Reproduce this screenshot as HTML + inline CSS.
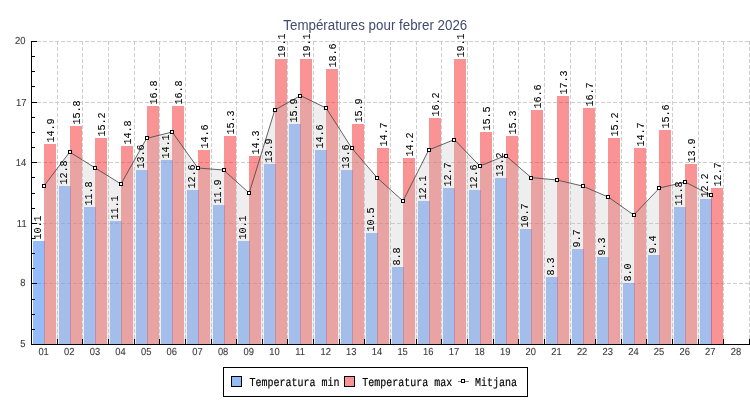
<!DOCTYPE html>
<html><head><meta charset="utf-8"><title>Températures pour febrer 2026</title>
<style>html,body{margin:0;padding:0;background:#fff;}body{width:750px;height:400px;overflow:hidden;font-family:"Liberation Sans",sans-serif;}svg{display:block}</style>
</head><body>
<svg width="750" height="400" viewBox="0 0 750 400">
<rect width="750" height="400" fill="#fff"/>
<g stroke="#cdcdcd" stroke-width="1" stroke-dasharray="4 2" shape-rendering="crispEdges">
<line x1="31" y1="41.5" x2="750" y2="41.5"/>
<line x1="31" y1="102.5" x2="750" y2="102.5"/>
<line x1="31" y1="162.5" x2="750" y2="162.5"/>
<line x1="31" y1="223.5" x2="750" y2="223.5"/>
<line x1="31" y1="283.5" x2="750" y2="283.5"/>
<line x1="57.5" y1="41" x2="57.5" y2="344"/>
<line x1="82.5" y1="41" x2="82.5" y2="344"/>
<line x1="108.5" y1="41" x2="108.5" y2="344"/>
<line x1="134.5" y1="41" x2="134.5" y2="344"/>
<line x1="159.5" y1="41" x2="159.5" y2="344"/>
<line x1="185.5" y1="41" x2="185.5" y2="344"/>
<line x1="211.5" y1="41" x2="211.5" y2="344"/>
<line x1="236.5" y1="41" x2="236.5" y2="344"/>
<line x1="262.5" y1="41" x2="262.5" y2="344"/>
<line x1="287.5" y1="41" x2="287.5" y2="344"/>
<line x1="313.5" y1="41" x2="313.5" y2="344"/>
<line x1="339.5" y1="41" x2="339.5" y2="344"/>
<line x1="364.5" y1="41" x2="364.5" y2="344"/>
<line x1="390.5" y1="41" x2="390.5" y2="344"/>
<line x1="416.5" y1="41" x2="416.5" y2="344"/>
<line x1="441.5" y1="41" x2="441.5" y2="344"/>
<line x1="467.5" y1="41" x2="467.5" y2="344"/>
<line x1="493.5" y1="41" x2="493.5" y2="344"/>
<line x1="518.5" y1="41" x2="518.5" y2="344"/>
<line x1="544.5" y1="41" x2="544.5" y2="344"/>
<line x1="570.5" y1="41" x2="570.5" y2="344"/>
<line x1="595.5" y1="41" x2="595.5" y2="344"/>
<line x1="621.5" y1="41" x2="621.5" y2="344"/>
<line x1="646.5" y1="41" x2="646.5" y2="344"/>
<line x1="672.5" y1="41" x2="672.5" y2="344"/>
<line x1="698.5" y1="41" x2="698.5" y2="344"/>
<line x1="723.5" y1="41" x2="723.5" y2="344"/>
<line x1="749.5" y1="41" x2="749.5" y2="344"/>
</g>
<g shape-rendering="crispEdges">
<rect x="33" y="241" width="12" height="103" fill="rgba(41,119,245,0.5)"/>
<rect x="44" y="144" width="12" height="200" fill="rgba(245,41,41,0.5)"/>
<rect x="59" y="186" width="12" height="158" fill="rgba(41,119,245,0.5)"/>
<rect x="70" y="126" width="12" height="218" fill="rgba(245,41,41,0.5)"/>
<rect x="84" y="207" width="12" height="137" fill="rgba(41,119,245,0.5)"/>
<rect x="95" y="138" width="12" height="206" fill="rgba(245,41,41,0.5)"/>
<rect x="110" y="221" width="12" height="123" fill="rgba(41,119,245,0.5)"/>
<rect x="121" y="146" width="12" height="198" fill="rgba(245,41,41,0.5)"/>
<rect x="136" y="170" width="12" height="174" fill="rgba(41,119,245,0.5)"/>
<rect x="147" y="106" width="12" height="238" fill="rgba(245,41,41,0.5)"/>
<rect x="161" y="160" width="12" height="184" fill="rgba(41,119,245,0.5)"/>
<rect x="172" y="106" width="12" height="238" fill="rgba(245,41,41,0.5)"/>
<rect x="187" y="190" width="12" height="154" fill="rgba(41,119,245,0.5)"/>
<rect x="198" y="150" width="12" height="194" fill="rgba(245,41,41,0.5)"/>
<rect x="213" y="205" width="12" height="139" fill="rgba(41,119,245,0.5)"/>
<rect x="224" y="136" width="12" height="208" fill="rgba(245,41,41,0.5)"/>
<rect x="238" y="241" width="12" height="103" fill="rgba(41,119,245,0.5)"/>
<rect x="249" y="156" width="12" height="188" fill="rgba(245,41,41,0.5)"/>
<rect x="264" y="164" width="12" height="180" fill="rgba(41,119,245,0.5)"/>
<rect x="275" y="59" width="12" height="285" fill="rgba(245,41,41,0.5)"/>
<rect x="289" y="124" width="12" height="220" fill="rgba(41,119,245,0.5)"/>
<rect x="300" y="59" width="12" height="285" fill="rgba(245,41,41,0.5)"/>
<rect x="315" y="150" width="12" height="194" fill="rgba(41,119,245,0.5)"/>
<rect x="326" y="69" width="12" height="275" fill="rgba(245,41,41,0.5)"/>
<rect x="341" y="170" width="12" height="174" fill="rgba(41,119,245,0.5)"/>
<rect x="352" y="124" width="12" height="220" fill="rgba(245,41,41,0.5)"/>
<rect x="366" y="233" width="12" height="111" fill="rgba(41,119,245,0.5)"/>
<rect x="377" y="148" width="12" height="196" fill="rgba(245,41,41,0.5)"/>
<rect x="392" y="267" width="12" height="77" fill="rgba(41,119,245,0.5)"/>
<rect x="403" y="158" width="12" height="186" fill="rgba(245,41,41,0.5)"/>
<rect x="418" y="201" width="12" height="143" fill="rgba(41,119,245,0.5)"/>
<rect x="429" y="118" width="12" height="226" fill="rgba(245,41,41,0.5)"/>
<rect x="443" y="188" width="12" height="156" fill="rgba(41,119,245,0.5)"/>
<rect x="454" y="59" width="12" height="285" fill="rgba(245,41,41,0.5)"/>
<rect x="469" y="190" width="12" height="154" fill="rgba(41,119,245,0.5)"/>
<rect x="480" y="132" width="12" height="212" fill="rgba(245,41,41,0.5)"/>
<rect x="495" y="178" width="12" height="166" fill="rgba(41,119,245,0.5)"/>
<rect x="506" y="136" width="12" height="208" fill="rgba(245,41,41,0.5)"/>
<rect x="520" y="229" width="12" height="115" fill="rgba(41,119,245,0.5)"/>
<rect x="531" y="110" width="12" height="234" fill="rgba(245,41,41,0.5)"/>
<rect x="546" y="277" width="12" height="67" fill="rgba(41,119,245,0.5)"/>
<rect x="557" y="96" width="12" height="248" fill="rgba(245,41,41,0.5)"/>
<rect x="572" y="249" width="12" height="95" fill="rgba(41,119,245,0.5)"/>
<rect x="583" y="108" width="12" height="236" fill="rgba(245,41,41,0.5)"/>
<rect x="597" y="257" width="12" height="87" fill="rgba(41,119,245,0.5)"/>
<rect x="608" y="138" width="12" height="206" fill="rgba(245,41,41,0.5)"/>
<rect x="623" y="283" width="12" height="61" fill="rgba(41,119,245,0.5)"/>
<rect x="634" y="148" width="12" height="196" fill="rgba(245,41,41,0.5)"/>
<rect x="648" y="255" width="12" height="89" fill="rgba(41,119,245,0.5)"/>
<rect x="659" y="130" width="12" height="214" fill="rgba(245,41,41,0.5)"/>
<rect x="674" y="207" width="12" height="137" fill="rgba(41,119,245,0.5)"/>
<rect x="685" y="164" width="12" height="180" fill="rgba(245,41,41,0.5)"/>
<rect x="700" y="199" width="12" height="145" fill="rgba(41,119,245,0.5)"/>
<rect x="711" y="188" width="12" height="156" fill="rgba(245,41,41,0.5)"/>
</g>
<polygon points="44.0,344 44.0,186.0 69.7,152.0 95.3,168.0 121.0,184.0 146.6,138.4 172.2,132.0 197.9,168.0 223.5,170.0 249.2,193.0 274.8,110.0 300.4,95.6 326.1,108.0 351.7,148.0 377.4,178.0 403.0,201.0 428.7,150.0 454.3,139.6 479.9,166.0 505.6,155.6 531.2,177.6 556.9,180.0 582.5,186.0 608.2,197.0 633.8,215.0 659.5,188.0 685.1,182.0 710.7,195.0 710.7,344" fill="rgba(198,198,198,0.3)"/>
<polyline points="44.0,186.0 69.7,152.0 95.3,168.0 121.0,184.0 146.6,138.4 172.2,132.0 197.9,168.0 223.5,170.0 249.2,193.0 274.8,110.0 300.4,95.6 326.1,108.0 351.7,148.0 377.4,178.0 403.0,201.0 428.7,150.0 454.3,139.6 479.9,166.0 505.6,155.6 531.2,177.6 556.9,180.0 582.5,186.0 608.2,197.0 633.8,215.0 659.5,188.0 685.1,182.0 710.7,195.0" fill="none" stroke="#484848" stroke-width="0.85"/>
<g shape-rendering="crispEdges">
<rect x="42" y="184" width="4" height="4" fill="#000"/><rect x="43" y="185" width="2" height="2" fill="#fff"/>
<rect x="68" y="150" width="4" height="4" fill="#000"/><rect x="69" y="151" width="2" height="2" fill="#fff"/>
<rect x="93" y="166" width="4" height="4" fill="#000"/><rect x="94" y="167" width="2" height="2" fill="#fff"/>
<rect x="119" y="182" width="4" height="4" fill="#000"/><rect x="120" y="183" width="2" height="2" fill="#fff"/>
<rect x="145" y="136" width="4" height="4" fill="#000"/><rect x="146" y="137" width="2" height="2" fill="#fff"/>
<rect x="170" y="130" width="4" height="4" fill="#000"/><rect x="171" y="131" width="2" height="2" fill="#fff"/>
<rect x="196" y="166" width="4" height="4" fill="#000"/><rect x="197" y="167" width="2" height="2" fill="#fff"/>
<rect x="222" y="168" width="4" height="4" fill="#000"/><rect x="223" y="169" width="2" height="2" fill="#fff"/>
<rect x="247" y="191" width="4" height="4" fill="#000"/><rect x="248" y="192" width="2" height="2" fill="#fff"/>
<rect x="273" y="108" width="4" height="4" fill="#000"/><rect x="274" y="109" width="2" height="2" fill="#fff"/>
<rect x="298" y="94" width="4" height="4" fill="#000"/><rect x="299" y="95" width="2" height="2" fill="#fff"/>
<rect x="324" y="106" width="4" height="4" fill="#000"/><rect x="325" y="107" width="2" height="2" fill="#fff"/>
<rect x="350" y="146" width="4" height="4" fill="#000"/><rect x="351" y="147" width="2" height="2" fill="#fff"/>
<rect x="375" y="176" width="4" height="4" fill="#000"/><rect x="376" y="177" width="2" height="2" fill="#fff"/>
<rect x="401" y="199" width="4" height="4" fill="#000"/><rect x="402" y="200" width="2" height="2" fill="#fff"/>
<rect x="427" y="148" width="4" height="4" fill="#000"/><rect x="428" y="149" width="2" height="2" fill="#fff"/>
<rect x="452" y="138" width="4" height="4" fill="#000"/><rect x="453" y="139" width="2" height="2" fill="#fff"/>
<rect x="478" y="164" width="4" height="4" fill="#000"/><rect x="479" y="165" width="2" height="2" fill="#fff"/>
<rect x="504" y="154" width="4" height="4" fill="#000"/><rect x="505" y="155" width="2" height="2" fill="#fff"/>
<rect x="529" y="176" width="4" height="4" fill="#000"/><rect x="530" y="177" width="2" height="2" fill="#fff"/>
<rect x="555" y="178" width="4" height="4" fill="#000"/><rect x="556" y="179" width="2" height="2" fill="#fff"/>
<rect x="581" y="184" width="4" height="4" fill="#000"/><rect x="582" y="185" width="2" height="2" fill="#fff"/>
<rect x="606" y="195" width="4" height="4" fill="#000"/><rect x="607" y="196" width="2" height="2" fill="#fff"/>
<rect x="632" y="213" width="4" height="4" fill="#000"/><rect x="633" y="214" width="2" height="2" fill="#fff"/>
<rect x="657" y="186" width="4" height="4" fill="#000"/><rect x="658" y="187" width="2" height="2" fill="#fff"/>
<rect x="683" y="180" width="4" height="4" fill="#000"/><rect x="684" y="181" width="2" height="2" fill="#fff"/>
<rect x="709" y="193" width="4" height="4" fill="#000"/><rect x="710" y="194" width="2" height="2" fill="#fff"/>
</g>
<g font-family="Liberation Mono, monospace" font-size="10.1" fill="#000" stroke="#000" stroke-width="0.05" style="will-change:transform">
<text transform="translate(41.1,239.6) rotate(-90) scale(1,1.17)" x="0" y="0">10.1</text>
<text transform="translate(54.2,142.6) rotate(-90) scale(1,1.17)" x="0" y="0">14.9</text>
<text transform="translate(67.1,184.6) rotate(-90) scale(1,1.17)" x="0" y="0">12.8</text>
<text transform="translate(80.2,124.6) rotate(-90) scale(1,1.17)" x="0" y="0">15.8</text>
<text transform="translate(92.1,205.6) rotate(-90) scale(1,1.17)" x="0" y="0">11.8</text>
<text transform="translate(105.2,136.6) rotate(-90) scale(1,1.17)" x="0" y="0">15.2</text>
<text transform="translate(118.1,219.6) rotate(-90) scale(1,1.17)" x="0" y="0">11.1</text>
<text transform="translate(131.2,144.6) rotate(-90) scale(1,1.17)" x="0" y="0">14.8</text>
<text transform="translate(144.1,168.6) rotate(-90) scale(1,1.17)" x="0" y="0">13.6</text>
<text transform="translate(157.2,104.6) rotate(-90) scale(1,1.17)" x="0" y="0">16.8</text>
<text transform="translate(169.1,158.6) rotate(-90) scale(1,1.17)" x="0" y="0">14.1</text>
<text transform="translate(182.2,104.6) rotate(-90) scale(1,1.17)" x="0" y="0">16.8</text>
<text transform="translate(195.1,188.6) rotate(-90) scale(1,1.17)" x="0" y="0">12.6</text>
<text transform="translate(208.2,148.6) rotate(-90) scale(1,1.17)" x="0" y="0">14.6</text>
<text transform="translate(221.1,203.6) rotate(-90) scale(1,1.17)" x="0" y="0">11.9</text>
<text transform="translate(234.2,134.6) rotate(-90) scale(1,1.17)" x="0" y="0">15.3</text>
<text transform="translate(246.1,239.6) rotate(-90) scale(1,1.17)" x="0" y="0">10.1</text>
<text transform="translate(259.2,154.6) rotate(-90) scale(1,1.17)" x="0" y="0">14.3</text>
<text transform="translate(272.1,162.6) rotate(-90) scale(1,1.17)" x="0" y="0">13.9</text>
<text transform="translate(285.2,57.6) rotate(-90) scale(1,1.17)" x="0" y="0">19.1</text>
<text transform="translate(297.1,122.6) rotate(-90) scale(1,1.17)" x="0" y="0">15.9</text>
<text transform="translate(310.2,57.6) rotate(-90) scale(1,1.17)" x="0" y="0">19.1</text>
<text transform="translate(323.1,148.6) rotate(-90) scale(1,1.17)" x="0" y="0">14.6</text>
<text transform="translate(336.2,67.6) rotate(-90) scale(1,1.17)" x="0" y="0">18.6</text>
<text transform="translate(349.1,168.6) rotate(-90) scale(1,1.17)" x="0" y="0">13.6</text>
<text transform="translate(362.2,122.6) rotate(-90) scale(1,1.17)" x="0" y="0">15.9</text>
<text transform="translate(374.1,231.6) rotate(-90) scale(1,1.17)" x="0" y="0">10.5</text>
<text transform="translate(387.2,146.6) rotate(-90) scale(1,1.17)" x="0" y="0">14.7</text>
<text transform="translate(400.1,265.6) rotate(-90) scale(1,1.17)" x="0" y="0">8.8</text>
<text transform="translate(413.2,156.6) rotate(-90) scale(1,1.17)" x="0" y="0">14.2</text>
<text transform="translate(426.1,199.6) rotate(-90) scale(1,1.17)" x="0" y="0">12.1</text>
<text transform="translate(439.2,116.6) rotate(-90) scale(1,1.17)" x="0" y="0">16.2</text>
<text transform="translate(451.1,186.6) rotate(-90) scale(1,1.17)" x="0" y="0">12.7</text>
<text transform="translate(464.2,57.6) rotate(-90) scale(1,1.17)" x="0" y="0">19.1</text>
<text transform="translate(477.1,188.6) rotate(-90) scale(1,1.17)" x="0" y="0">12.6</text>
<text transform="translate(490.2,130.6) rotate(-90) scale(1,1.17)" x="0" y="0">15.5</text>
<text transform="translate(503.1,176.6) rotate(-90) scale(1,1.17)" x="0" y="0">13.2</text>
<text transform="translate(516.2,134.6) rotate(-90) scale(1,1.17)" x="0" y="0">15.3</text>
<text transform="translate(528.1,227.6) rotate(-90) scale(1,1.17)" x="0" y="0">10.7</text>
<text transform="translate(541.2,108.6) rotate(-90) scale(1,1.17)" x="0" y="0">16.6</text>
<text transform="translate(554.1,275.6) rotate(-90) scale(1,1.17)" x="0" y="0">8.3</text>
<text transform="translate(567.2,94.6) rotate(-90) scale(1,1.17)" x="0" y="0">17.3</text>
<text transform="translate(580.1,247.6) rotate(-90) scale(1,1.17)" x="0" y="0">9.7</text>
<text transform="translate(593.2,106.6) rotate(-90) scale(1,1.17)" x="0" y="0">16.7</text>
<text transform="translate(605.1,255.6) rotate(-90) scale(1,1.17)" x="0" y="0">9.3</text>
<text transform="translate(618.2,136.6) rotate(-90) scale(1,1.17)" x="0" y="0">15.2</text>
<text transform="translate(631.1,281.6) rotate(-90) scale(1,1.17)" x="0" y="0">8.0</text>
<text transform="translate(644.2,146.6) rotate(-90) scale(1,1.17)" x="0" y="0">14.7</text>
<text transform="translate(656.1,253.6) rotate(-90) scale(1,1.17)" x="0" y="0">9.4</text>
<text transform="translate(669.2,128.6) rotate(-90) scale(1,1.17)" x="0" y="0">15.6</text>
<text transform="translate(682.1,205.6) rotate(-90) scale(1,1.17)" x="0" y="0">11.8</text>
<text transform="translate(695.2,162.6) rotate(-90) scale(1,1.17)" x="0" y="0">13.9</text>
<text transform="translate(708.1,197.6) rotate(-90) scale(1,1.17)" x="0" y="0">12.2</text>
<text transform="translate(721.2,186.6) rotate(-90) scale(1,1.17)" x="0" y="0">12.7</text>
</g>
<g fill="#000" shape-rendering="crispEdges">
<rect x="31" y="41" width="1" height="304"/>
<rect x="31" y="344" width="719" height="1"/>
<rect x="31" y="41" width="6" height="1"/>
<rect x="31" y="56" width="4" height="1"/>
<rect x="31" y="71" width="4" height="1"/>
<rect x="31" y="86" width="4" height="1"/>
<rect x="31" y="102" width="6" height="1"/>
<rect x="31" y="117" width="4" height="1"/>
<rect x="31" y="132" width="4" height="1"/>
<rect x="31" y="147" width="4" height="1"/>
<rect x="31" y="162" width="6" height="1"/>
<rect x="31" y="177" width="4" height="1"/>
<rect x="31" y="193" width="4" height="1"/>
<rect x="31" y="208" width="4" height="1"/>
<rect x="31" y="223" width="6" height="1"/>
<rect x="31" y="238" width="4" height="1"/>
<rect x="31" y="253" width="4" height="1"/>
<rect x="31" y="268" width="4" height="1"/>
<rect x="31" y="283" width="6" height="1"/>
<rect x="31" y="299" width="4" height="1"/>
<rect x="31" y="314" width="4" height="1"/>
<rect x="31" y="329" width="4" height="1"/>
<rect x="31" y="344" width="6" height="1"/>
<rect x="31" y="339" width="1" height="6"/>
<rect x="57" y="339" width="1" height="6"/>
<rect x="82" y="339" width="1" height="6"/>
<rect x="108" y="339" width="1" height="6"/>
<rect x="134" y="339" width="1" height="6"/>
<rect x="159" y="339" width="1" height="6"/>
<rect x="185" y="339" width="1" height="6"/>
<rect x="211" y="339" width="1" height="6"/>
<rect x="236" y="339" width="1" height="6"/>
<rect x="262" y="339" width="1" height="6"/>
<rect x="287" y="339" width="1" height="6"/>
<rect x="313" y="339" width="1" height="6"/>
<rect x="339" y="339" width="1" height="6"/>
<rect x="364" y="339" width="1" height="6"/>
<rect x="390" y="339" width="1" height="6"/>
<rect x="416" y="339" width="1" height="6"/>
<rect x="441" y="339" width="1" height="6"/>
<rect x="467" y="339" width="1" height="6"/>
<rect x="493" y="339" width="1" height="6"/>
<rect x="518" y="339" width="1" height="6"/>
<rect x="544" y="339" width="1" height="6"/>
<rect x="570" y="339" width="1" height="6"/>
<rect x="595" y="339" width="1" height="6"/>
<rect x="621" y="339" width="1" height="6"/>
<rect x="646" y="339" width="1" height="6"/>
<rect x="672" y="339" width="1" height="6"/>
<rect x="698" y="339" width="1" height="6"/>
<rect x="723" y="339" width="1" height="6"/>
<rect x="749" y="339" width="1" height="6"/>
</g>
<g font-family="Liberation Sans, sans-serif" font-size="10.2" text-rendering="geometricPrecision" fill="#3a3a3a" stroke="#3a3a3a" stroke-width="0.1" style="will-change:transform">
<text transform="translate(25.5,44) scale(0.92,1)" text-anchor="end">20</text>
<text transform="translate(26.4,106) scale(0.92,1)" text-anchor="end">17</text>
<text transform="translate(26.2,166) scale(0.92,1)" text-anchor="end">14</text>
<text transform="translate(26.6,227) scale(0.92,1)" text-anchor="end">11</text>
<text transform="translate(25.5,286) scale(0.92,1)" text-anchor="end">8</text>
<text transform="translate(25.4,347) scale(0.92,1)" text-anchor="end">5</text>
<text transform="translate(43.6,355) scale(0.92,1)" text-anchor="middle">01</text>
<text transform="translate(69.3,355) scale(0.92,1)" text-anchor="middle">02</text>
<text transform="translate(94.9,355) scale(0.92,1)" text-anchor="middle">03</text>
<text transform="translate(120.5,355) scale(0.92,1)" text-anchor="middle">04</text>
<text transform="translate(146.2,355) scale(0.92,1)" text-anchor="middle">05</text>
<text transform="translate(171.8,355) scale(0.92,1)" text-anchor="middle">06</text>
<text transform="translate(197.5,355) scale(0.92,1)" text-anchor="middle">07</text>
<text transform="translate(223.1,355) scale(0.92,1)" text-anchor="middle">08</text>
<text transform="translate(248.8,355) scale(0.92,1)" text-anchor="middle">09</text>
<text transform="translate(274.4,355) scale(0.92,1)" text-anchor="middle">10</text>
<text transform="translate(300.1,355) scale(0.92,1)" text-anchor="middle">11</text>
<text transform="translate(325.7,355) scale(0.92,1)" text-anchor="middle">12</text>
<text transform="translate(351.3,355) scale(0.92,1)" text-anchor="middle">13</text>
<text transform="translate(377.0,355) scale(0.92,1)" text-anchor="middle">14</text>
<text transform="translate(402.6,355) scale(0.92,1)" text-anchor="middle">15</text>
<text transform="translate(428.3,355) scale(0.92,1)" text-anchor="middle">16</text>
<text transform="translate(453.9,355) scale(0.92,1)" text-anchor="middle">17</text>
<text transform="translate(479.6,355) scale(0.92,1)" text-anchor="middle">18</text>
<text transform="translate(505.2,355) scale(0.92,1)" text-anchor="middle">19</text>
<text transform="translate(530.8,355) scale(0.92,1)" text-anchor="middle">20</text>
<text transform="translate(556.5,355) scale(0.92,1)" text-anchor="middle">21</text>
<text transform="translate(582.1,355) scale(0.92,1)" text-anchor="middle">22</text>
<text transform="translate(607.8,355) scale(0.92,1)" text-anchor="middle">23</text>
<text transform="translate(633.4,355) scale(0.92,1)" text-anchor="middle">24</text>
<text transform="translate(659.0,355) scale(0.92,1)" text-anchor="middle">25</text>
<text transform="translate(684.7,355) scale(0.92,1)" text-anchor="middle">26</text>
<text transform="translate(710.3,355) scale(0.92,1)" text-anchor="middle">27</text>
<text transform="translate(736.0,355) scale(0.92,1)" text-anchor="middle">28</text>
</g>
<g style="will-change:transform"><text x="375.3" y="29.5" text-anchor="middle" font-family="Liberation Sans, sans-serif" font-size="14" fill="#414b6e" textLength="184" lengthAdjust="spacingAndGlyphs">Températures pour febrer 2026</text></g>
<g shape-rendering="crispEdges">
<rect x="223.5" y="367.5" width="304" height="29" fill="#fff" stroke="#000" stroke-width="1"/>
<rect x="231.5" y="376.5" width="10" height="10" fill="rgb(148,187,250)" stroke="#000" stroke-width="1"/>
<rect x="344.5" y="376.5" width="10" height="10" fill="rgb(250,148,148)" stroke="#000" stroke-width="1"/>
<rect x="458" y="381" width="11" height="1" fill="#848484"/>
<rect x="461" y="379" width="4" height="4" fill="#000"/><rect x="462" y="380" width="2" height="2" fill="#fff"/>
</g>
<g font-family="Liberation Mono, monospace" font-size="12" text-rendering="geometricPrecision" fill="#000" stroke="#000" stroke-width="0.18" style="will-change:transform">
<text transform="translate(249.5,386) scale(0.8333,1)" x="0" y="0">Temperatura min</text>
<text transform="translate(362.2,386) scale(0.8333,1)" x="0" y="0">Temperatura max</text>
<text transform="translate(475.0,386) scale(0.8333,1)" x="0" y="0">Mitjana</text>
</g>
</svg>
</body></html>
